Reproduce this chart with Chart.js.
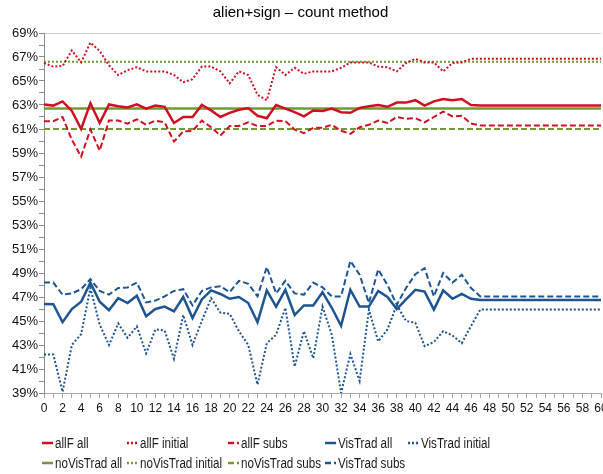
<!DOCTYPE html>
<html>
<head>
<meta charset="utf-8">
<script src="https://cdn.jsdelivr.net/npm/chart.js@4.4.0/dist/chart.umd.min.js"></script>
<style>
  html, body { margin: 0; padding: 0; background: #fff; overflow: hidden; }
  #wrap { position: relative; width: 603px; height: 474px; }
  #legend { position: absolute; left: 0; top: 0; width: 603px; height: 474px;
    font-family: 'Liberation Sans Narrow', 'Liberation Sans', Arial, sans-serif;
    font-size: 14px; color: #1a1a1a; }
  .item { position: absolute; display: flex; align-items: center; white-space: nowrap; height: 16px; }
  .item svg { margin-right: 2px; }
  .item span { display: inline-block; transform: scaleX(0.83); transform-origin: left center; }
</style>
</head>
<body>
<div id="wrap">
  <canvas id="chart" width="603" height="474"></canvas>
  <div id="legend"></div>
</div>
<script>
// x categories
const xLabels = ['0','1','2','3','4','5','6','7','8','9','10','11','12','13','14','15','16','17','18','19','20',
  '21','22','23','24','25','26','27','28','29','30','31','32','33','34','35','36','37','38','39','40',
  '41','42','43','44','45','46','47','48','49','50','51','52','53','54','55','56','57','58','59','60'];

// series values (%)
const allFAll = [63.05,62.95,63.3,62.5,61.0,63.15,61.5,63.05,62.9,62.8,63.05,62.7,62.95,62.85,61.5,62.0,62.0,63.0,62.55,62.0,
  62.35,62.6,62.75,62.1,61.9,63.0,62.7,62.4,62.05,62.55,62.5,62.7,62.4,62.35,62.75,62.9,63.0,62.85,63.2,63.2,
  63.4,62.95,63.3,63.5,63.4,63.5,63.0,62.95,62.95,62.95,62.95,62.95,62.95,62.95,62.95,62.95,62.95,62.95,62.95,62.95,62.95];
const allFInitial = [66.5,66.2,66.25,67.55,66.55,68.2,67.5,66.3,65.5,65.9,66.15,65.8,65.8,65.8,65.5,64.9,65.15,66.2,66.2,65.8,
  64.8,65.8,65.5,63.85,63.4,66.15,65.5,66.1,65.6,65.8,65.8,65.8,66.1,66.55,66.55,66.55,66.2,66.15,65.8,66.5,
  66.85,66.55,66.55,65.8,66.5,66.55,66.85,66.85,66.85,66.85,66.85,66.85,66.85,66.85,66.85,66.85,66.85,66.85,66.85,66.85,66.85];
const allFSubs = [61.65,61.65,62.0,60.1,58.7,60.95,59.2,61.7,61.7,61.45,61.8,61.35,61.7,61.55,59.95,60.8,60.85,61.7,61.15,60.45,
  61.25,61.25,61.55,61.25,61.25,61.7,61.65,60.95,60.65,61.1,61.1,61.35,60.85,60.6,61.15,61.35,61.7,61.5,62.0,61.85,
  61.9,61.55,62.0,62.45,62.05,62.1,61.45,61.3,61.3,61.3,61.3,61.3,61.3,61.3,61.3,61.3,61.3,61.3,61.3,61.3,61.3];
const visTradAll = [46.42,46.4,44.9,46.0,46.6,48.2,46.6,45.9,46.9,46.5,47.1,45.4,46.0,46.2,45.8,47.0,45.25,46.8,47.55,47.25,
  46.85,47.0,46.5,44.9,47.55,46.2,47.6,45.5,46.3,46.3,47.4,46.1,44.6,47.6,46.2,46.2,47.5,47.0,46.0,46.8,
  47.6,47.45,45.95,47.55,46.85,47.25,46.85,46.75,46.75,46.75,46.75,46.75,46.75,46.75,46.75,46.75,46.75,46.75,46.75,46.75,46.75];
const visTradInitial = [42.2,42.2,39.1,43.0,43.9,47.75,44.7,43.0,44.8,43.6,44.55,42.3,44.3,44.2,41.85,45.5,43.0,45.0,46.9,45.7,
  45.6,44.15,43.0,39.7,43.15,43.85,46.1,41.2,44.15,41.9,46.2,43.85,39.0,42.25,40.0,45.95,43.3,44.3,46.35,45.0,
  44.85,42.9,43.25,44.15,43.8,43.15,44.6,45.95,45.95,45.95,45.95,45.95,45.95,45.95,45.95,45.95,45.95,45.95,45.95,45.95,45.95];
const visTradSubs = [48.2,48.2,47.2,47.3,47.65,48.5,47.5,47.2,47.75,47.8,48.2,46.55,46.7,47.05,47.5,47.65,46.3,47.5,47.8,47.9,
  47.4,48.35,48.1,47.05,49.5,47.3,48.35,47.3,47.2,48.2,47.8,47.05,47.05,50.0,48.85,46.5,49.3,48.0,46.35,47.75,
  48.9,49.4,47.05,49.0,48.2,48.85,47.75,47.05,47.05,47.05,47.05,47.05,47.05,47.05,47.05,47.05,47.05,47.05,47.05,47.05,47.05];
const noVisTradAll = [62.7,62.7,62.7,62.7,62.7,62.7,62.7,62.7,62.7,62.7,62.7,62.7,62.7,62.7,62.7,62.7,62.7,62.7,62.7,62.7,
  62.7,62.7,62.7,62.7,62.7,62.7,62.7,62.7,62.7,62.7,62.7,62.7,62.7,62.7,62.7,62.7,62.7,62.7,62.7,62.7,
  62.7,62.7,62.7,62.7,62.7,62.7,62.7,62.7,62.7,62.7,62.7,62.7,62.7,62.7,62.7,62.7,62.7,62.7,62.7,62.7,62.7];
const noVisTradInitial = [66.6,66.6,66.6,66.6,66.6,66.6,66.6,66.6,66.6,66.6,66.6,66.6,66.6,66.6,66.6,66.6,66.6,66.6,66.6,66.6,
  66.6,66.6,66.6,66.6,66.6,66.6,66.6,66.6,66.6,66.6,66.6,66.6,66.6,66.6,66.6,66.6,66.6,66.6,66.6,66.6,
  66.6,66.6,66.6,66.6,66.6,66.6,66.6,66.6,66.6,66.6,66.6,66.6,66.6,66.6,66.6,66.6,66.6,66.6,66.6,66.6,66.6];
const noVisTradSubs = [61.0,61.0,61.0,61.0,61.0,61.0,61.0,61.0,61.0,61.0,61.0,61.0,61.0,61.0,61.0,61.0,61.0,61.0,61.0,61.0,
  61.0,61.0,61.0,61.0,61.0,61.0,61.0,61.0,61.0,61.0,61.0,61.0,61.0,61.0,61.0,61.0,61.0,61.0,61.0,61.0,
  61.0,61.0,61.0,61.0,61.0,61.0,61.0,61.0,61.0,61.0,61.0,61.0,61.0,61.0,61.0,61.0,61.0,61.0,61.0,61.0,61.0];

const RED = '#cf1020', BLUE = '#1d5592', GREEN = '#6f9a38';
const SOLID = [], DOT = [2, 2], DASH = [6, 3];

function series(label, data, color, dash) {
  return {
    label: label, data: data, borderColor: color, backgroundColor: color,
    borderWidth: dash.length ? 2 : 2.5, borderDash: dash, borderCapStyle: 'butt',
    pointRadius: 0, tension: 0, fill: false
  };
}

const datasets = [
  series('allF all', allFAll, RED, SOLID),
  series('allF initial', allFInitial, RED, DOT),
  series('allF subs', allFSubs, RED, DASH),
  series('VisTrad all', visTradAll, BLUE, SOLID),
  series('VisTrad initial', visTradInitial, BLUE, DOT),
  series('noVisTrad all', noVisTradAll, GREEN, SOLID),
  series('noVisTrad initial', noVisTradInitial, GREEN, DOT),
  series('noVisTrad subs', noVisTradSubs, GREEN, DASH),
  series('VisTrad subs', visTradSubs, BLUE, DASH)
];

const FONT = "'Liberation Sans', Arial, sans-serif";

new Chart(document.getElementById('chart').getContext('2d'), {
  type: 'line',
  data: { labels: xLabels, datasets: datasets },
  options: {
    responsive: false,
    animation: false,
    devicePixelRatio: 1,
    layout: { padding: { left: 0, right: 2, top: 0, bottom: 51 } },
    plugins: {
      legend: { display: false },
      tooltip: { enabled: false },
      title: {
        display: true,
        text: 'alien+sign – count method',
        color: '#000',
        font: { family: FONT, size: 15, weight: 'normal' },
        padding: { top: 4, bottom: 11 }
      }
    },
    scales: {
      x: {
        type: 'category',
        offset: false,
        grid: { drawOnChartArea: false, tickColor: '#a6a6a6', tickLength: 5 },
        border: { display: true, color: '#a6a6a6' },
        ticks: {
          autoSkip: false, maxRotation: 0, color: '#111', padding: 3,
          font: { family: FONT, size: 12 },
          callback: function (v, i) { return i % 2 === 0 ? xLabels[i] : ''; }
        },
        afterFit: function (scale) { scale.height = 30; scale.paddingRight = 0; }
      },
      y: {
        min: 39, max: 69,
        grid: {
          drawOnChartArea: true, tickLength: 5, tickColor: '#8c8c8c',
          color: function (c) { return c.tick && c.tick.value === 69 ? '#cccccc' : 'rgba(0,0,0,0)'; }
        },
        border: { display: true, color: '#8c8c8c' },
        ticks: {
          stepSize: 1, autoSkip: false, maxTicksLimit: 40, color: '#111', padding: 1,
          font: { family: FONT, size: 13 },
          callback: function (v) { return (v - 39) % 2 === 0 ? v + '%' : ''; }
        },
        afterFit: function (scale) { scale.width = 44; }
      }
    }
  }
});

// legend in Excel-like columns
const legendCols = [42, 127, 228, 325, 408];
const legendRows = [443, 463];
const legend = document.getElementById('legend');
datasets.forEach(function (ds, i) {
  const row = i < 5 ? 0 : 1, col = i < 5 ? i : i - 5;
  const el = document.createElement('div');
  el.className = 'item';
  el.style.left = legendCols[col] + 'px';
  el.style.top = (legendRows[row] - 8) + 'px';
  const dash = ds.borderDash.length ? ' stroke-dasharray="' + ds.borderDash.join(' ') + '"' : '';
  el.innerHTML = '<svg width="11" height="4"><line x1="0" y1="2" x2="11" y2="2" stroke="' + ds.borderColor +
    '" stroke-width="2.5"' + dash + '/></svg><span>' + ds.label + '</span>';
  legend.appendChild(el);
});
</script>
</body>
</html>
